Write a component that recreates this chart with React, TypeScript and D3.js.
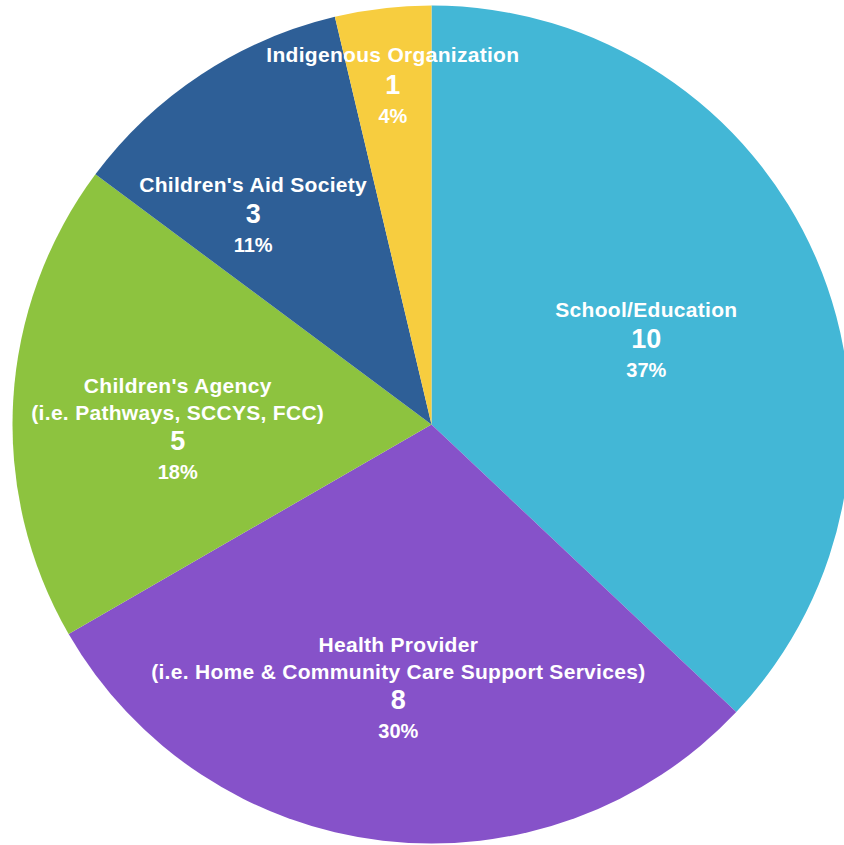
import React from "react";
import * as d3 from "d3";

// slices, clockwise from 12 o'clock
const categories = [
  "School/Education",
  "Health Provider",
  "Children's Agency",
  "Children's Aid Society",
  "Indigenous Organization",
];
const subLabels = [
  "",
  "(i.e. Home & Community Care Support Services)",
  "(i.e. Pathways, SCCYS, FCC)",
  "",
  "",
];
const counts = [10, 8, 5, 3, 1];
const colors = ["#43B7D6", "#8652C9", "#8DC33F", "#2E5F97", "#F7CD3F"];

// label placement: radius and angle shift (deg) from the slice's mid angle
const labelLayout = [
  { r: 228, shift: 3.8 },
  { r: 286, shift: 0 },
  { r: 255, shift: -9 },
  { r: 269, shift: -8.2 },
  { r: 333, shift: 0 },
];

const WIDTH = 844;
const HEIGHT = 845;
const CX = 431.5;
const CY = 424.5;
const RADIUS = 419;

// largest remainder rounding so percents add to 100
const percents = (vals: number[]) => {
  const total = d3.sum(vals);
  const raw = vals.map((v) => (v / total) * 100);
  const out = raw.map((r) => Math.floor(r));
  let left = 100 - d3.sum(out);
  const order = d3.range(vals.length).sort((a, b) => (raw[b] - out[b]) - (raw[a] - out[a]));
  for (let i = 0; left > 0; i++, left--) out[order[i]] += 1;
  return out;
};

export default function App() {
  const pie = d3
    .pie<number>()
    .sort(null)
    .value((d) => d);
  const arcs = pie(counts);
  const arc = d3.arc<d3.PieArcDatum<number>>().innerRadius(0).outerRadius(RADIUS);
  const pct = percents(counts);
  const font = "'Liberation Sans', Arial, Helvetica, sans-serif";

  return (
    <svg
      width={WIDTH}
      height={HEIGHT}
      style={{ position: "absolute", left: 0, top: 0, background: "#fff" }}
    >
      <g transform={`translate(${CX},${CY})`}>
        {arcs.map((a, i) => (
          <path key={"s" + i} d={arc(a) || ""} fill={colors[i]} />
        ))}
        {arcs.map((a, i) => {
          const mid = (a.startAngle + a.endAngle) / 2 + (labelLayout[i].shift * Math.PI) / 180;
          const [x, y] = d3
            .arc()
            .innerRadius(labelLayout[i].r)
            .outerRadius(labelLayout[i].r)
            .centroid({ startAngle: mid, endAngle: mid } as any);
          const hasSub = subLabels[i] !== "";
          return (
            <g
              key={"l" + i}
              fill="#fff"
              fontFamily={font}
              fontWeight="bold"
              textAnchor="middle"
            >
              <text x={x} y={y - (hasSub ? 56.7 : 31.5)} fontSize={21} letterSpacing={0.3}>
                {categories[i]}
              </text>
              {hasSub && (
                <text x={x} y={y - 30} fontSize={21} letterSpacing={0.3}>
                  {subLabels[i]}
                </text>
              )}
              <text x={x} y={y} fontSize={27}>
                {counts[i]}
              </text>
              <text x={x} y={y + 29} fontSize={20}>
                {pct[i] + "%"}
              </text>
            </g>
          );
        })}
      </g>
    </svg>
  );
}
